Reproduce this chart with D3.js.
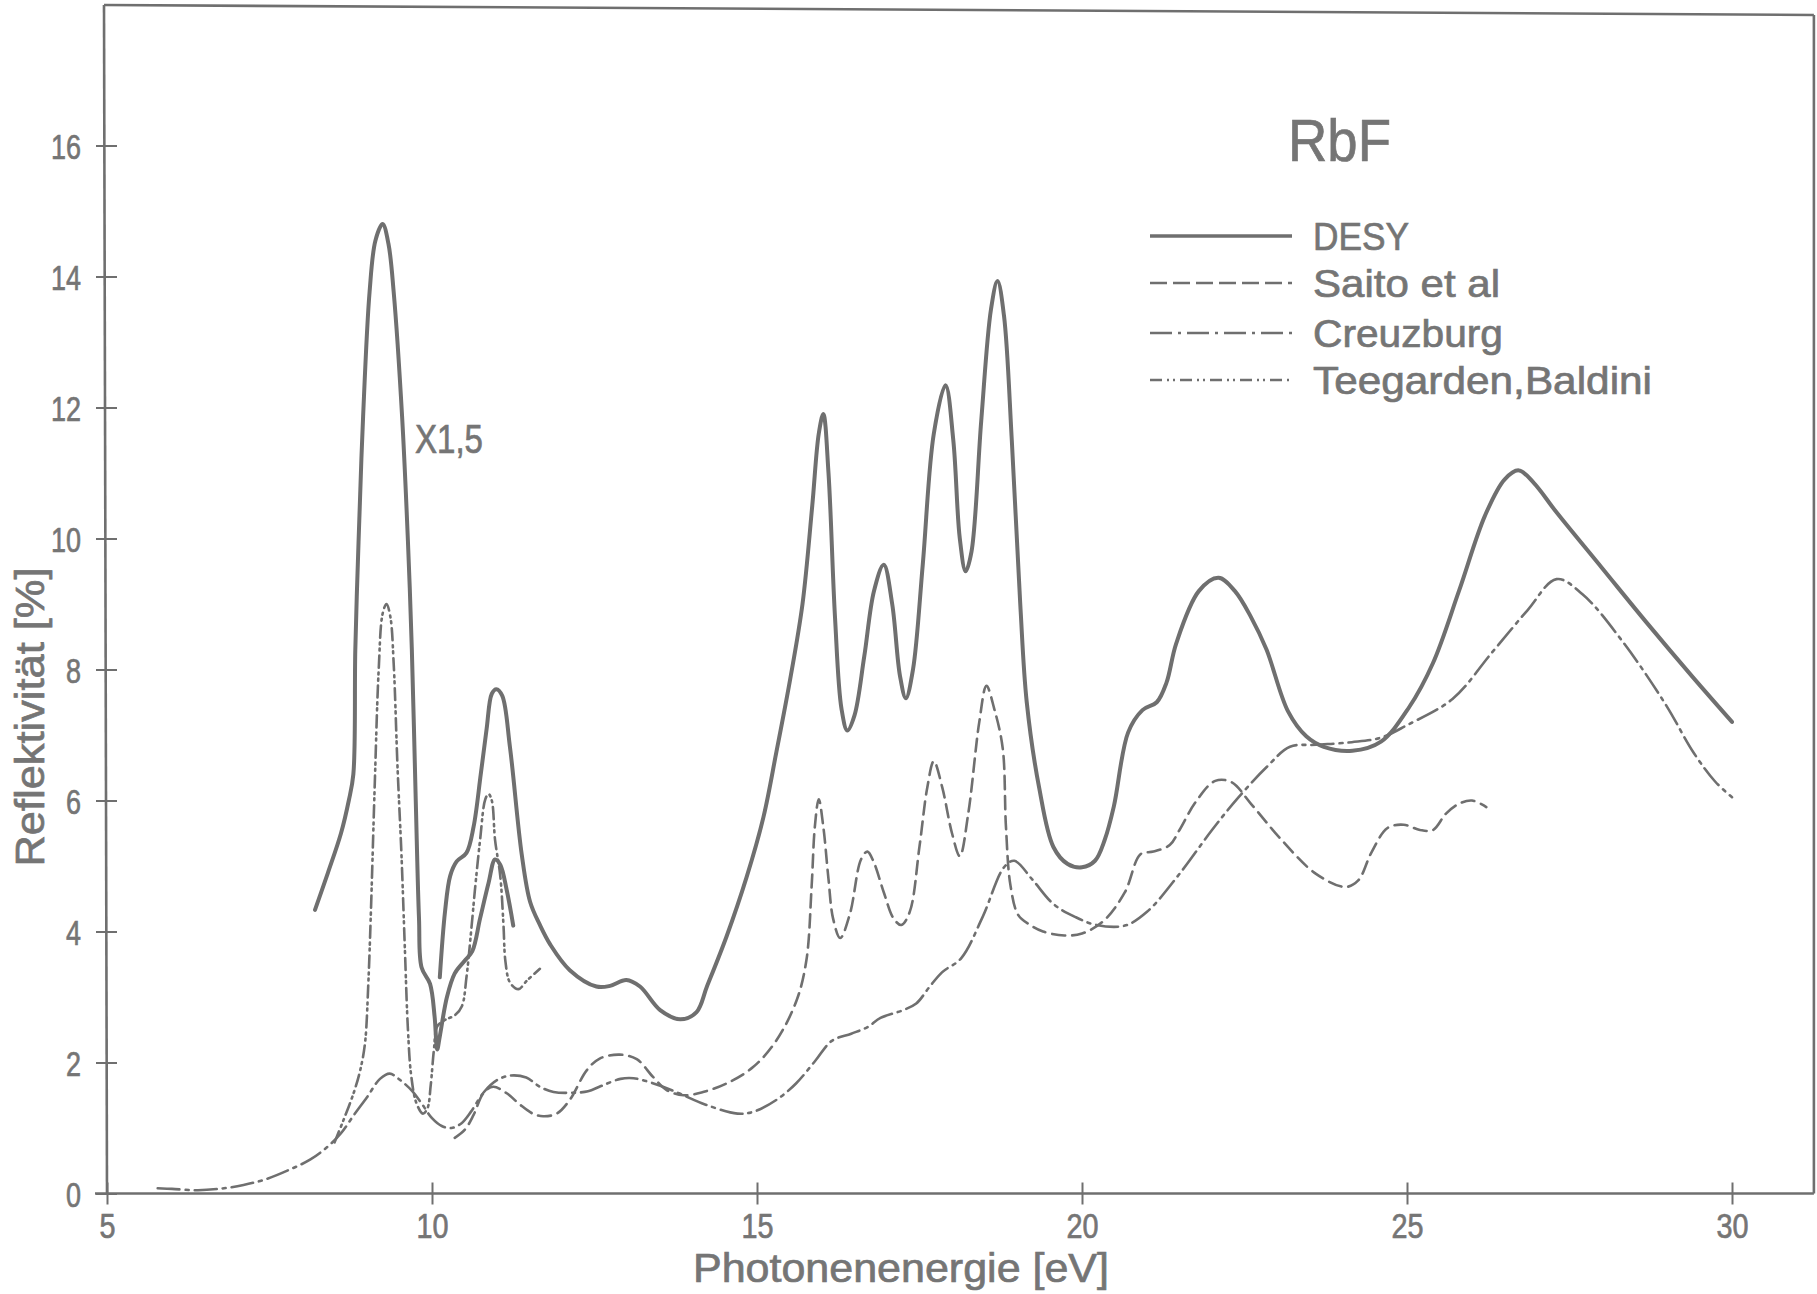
<!DOCTYPE html>
<html>
<head>
<meta charset="utf-8">
<script src="https://cdn.jsdelivr.net/npm/d3@7"></script>
<style>
  html, body { margin: 0; padding: 0; background: #ffffff; }
  svg { display: block; }
  text { font-family: "Liberation Sans", Arial, "DejaVu Sans", sans-serif; fill: #757575;
         stroke: #757575; stroke-width: 0.7px; paint-order: stroke; }
</style>
</head>
<body>
<svg id="chart" width="1817" height="1294"></svg>
<script>
// ---------------- DATA ----------------
const xTicks = [5, 10, 15, 20, 25, 30];
const yTicks = [0, 2, 4, 6, 8, 10, 12, 14, 16];
const chartTitle = "RbF";
const xLabel = "Photonenenergie  [eV]";
const yLabel = "Reflektivität [%]";
const scaleNote = "X1,5";
const seriesNames = ["DESY", "Saito et al", "Creuzburg", "Teegarden,Baldini"];

// DESY, first part (large exciton peak, marked X1,5) [eV, %]
const desyA = [
  [8.2,4.33],[8.4,4.9],[8.6,5.5],[8.72,6.0],[8.79,6.4],[8.82,8.3],[8.87,9.95],[8.94,11.86],
  [9.04,13.77],[9.13,14.55],[9.24,14.8],[9.33,14.5],[9.41,13.77],[9.54,11.86],[9.63,9.95],
  [9.69,8.3],[9.75,6.0],[9.8,4.2],[9.84,3.45],[9.97,3.2],[10.04,2.7],[10.08,2.2],[10.12,2.4],
  [10.23,3.0],[10.35,3.36],[10.5,3.55],[10.62,3.7],[10.74,4.2],[10.87,4.74],[10.97,5.1],
  [11.05,5.02],[11.15,4.63],[11.25,4.09]
];
// DESY, main spectrum
const desyB = [
  [10.12,3.3],[10.2,4.3],[10.28,4.85],[10.38,5.07],[10.53,5.2],[10.64,5.6],[10.75,6.4],[10.84,7.09],
  [10.92,7.63],[10.99,7.7],[11.08,7.6],[11.2,6.81],[11.38,5.18],[11.51,4.45],[11.66,4.1],[11.82,3.8],
  [12.12,3.41],[12.53,3.16],[12.74,3.17],[12.99,3.26],[13.2,3.16],[13.51,2.8],[13.82,2.66],[14.07,2.77],
  [14.23,3.16],[14.53,3.92],[14.84,4.83],[15.1,5.75],[15.3,6.75],[15.51,7.85],[15.7,9.0],[15.85,10.5],
  [15.95,11.6],[16.02,11.9],[16.1,11.0],[16.2,8.8],[16.3,7.4],[16.39,7.07],[16.5,7.3],[16.65,8.2],
  [16.8,9.2],[16.95,9.6],[17.08,9.0],[17.2,7.9],[17.29,7.56],[17.4,8.0],[17.55,9.6],[17.72,11.6],
  [17.9,12.34],[18.02,11.5],[18.12,10.0],[18.21,9.5],[18.3,9.8],[18.45,11.8],[18.6,13.5],[18.7,13.93],
  [18.8,13.4],[18.92,11.5],[19.05,9.0],[19.15,7.5],[19.34,6.2],[19.56,5.29],[19.78,5.03],[20.0,4.98],
  [20.2,5.08],[20.35,5.4],[20.49,5.91],[20.71,7.04],[20.93,7.38],[21.15,7.5],[21.3,7.8],[21.45,8.4],
  [21.8,9.2],[22.1,9.4],[22.35,9.2],[22.6,8.8],[22.84,8.3],[23.17,7.36],[23.45,6.98],[23.72,6.82],
  [24.16,6.76],[24.6,6.9],[25.03,7.42],[25.4,8.1],[25.8,9.2],[26.2,10.35],[26.5,10.9],[26.72,11.04],
  [26.95,10.85],[27.3,10.4],[28.0,9.55],[28.7,8.7],[29.4,7.88],[30.0,7.2]
];
// Saito et al
const saito = [
  [10.35,0.85],[10.51,0.98],[10.64,1.2],[10.79,1.53],[10.94,1.63],[11.15,1.53],[11.35,1.36],[11.55,1.22],
  [11.71,1.18],[11.92,1.22],[12.12,1.43],[12.38,1.88],[12.58,2.06],[12.89,2.12],[13.15,2.05],[13.4,1.78],
  [13.61,1.58],[13.87,1.5],[14.17,1.55],[14.53,1.68],[14.94,1.93],[15.3,2.34],[15.61,2.95],[15.76,3.56],
  [15.84,4.68],[15.89,5.6],[15.95,6.02],[16.02,5.6],[16.1,4.8],[16.17,4.2],[16.28,3.9],[16.43,4.27],
  [16.6,5.1],[16.7,5.22],[16.8,5.05],[16.95,4.6],[17.1,4.2],[17.22,4.1],[17.35,4.3],[17.5,5.3],
  [17.62,6.2],[17.72,6.6],[17.85,6.2],[18.0,5.5],[18.12,5.15],[18.25,5.8],[18.42,7.2],[18.53,7.75],
  [18.65,7.4],[18.78,6.8],[18.83,5.6],[18.9,4.7],[19.02,4.25],[19.2,4.1],[19.4,4.0],[19.73,3.94],
  [20.0,3.97],[20.33,4.16],[20.66,4.6],[20.9,5.18],[21.1,5.22],[21.35,5.32],[21.5,5.55],[21.75,5.98],
  [22.05,6.3],[22.3,6.28],[22.6,5.95],[23.06,5.41],[23.6,4.88],[24.05,4.68],[24.25,4.78],[24.45,5.2],
  [24.7,5.58],[24.95,5.63],[25.2,5.55],[25.4,5.55],[25.6,5.8],[25.8,5.95],[26.0,6.0],[26.22,5.9]
];
// Creuzburg (long dash-dot curve)
const creuzburg = [
  [5.78,0.08],[6.0,0.07],[6.4,0.05],[6.8,0.08],[7.1,0.13],[7.45,0.22],[7.8,0.36],[8.13,0.52],
  [8.4,0.72],[8.6,0.92],[8.8,1.2],[9.0,1.47],[9.2,1.75],[9.35,1.83],[9.5,1.74],[9.7,1.56],
  [9.85,1.36],[10.0,1.15],[10.15,1.03],[10.3,1.0],[10.45,1.07],[10.6,1.25],[10.8,1.55],[11.0,1.73],
  [11.2,1.8],[11.45,1.77],[11.66,1.63],[11.87,1.55],[12.2,1.54],[12.4,1.56],[12.6,1.64],[12.9,1.75],
  [13.1,1.76],[13.5,1.65],[13.8,1.53],[14.2,1.36],[14.7,1.22],[14.95,1.25],[15.3,1.43],[15.6,1.68],
  [15.9,2.03],[16.15,2.33],[16.45,2.44],[16.7,2.54],[16.9,2.68],[17.25,2.8],[17.45,2.9],[17.65,3.15],
  [17.85,3.38],[18.14,3.59],[18.47,4.22],[18.8,4.98],[18.96,5.08],[19.23,4.8],[19.56,4.42],[19.9,4.22],
  [20.22,4.1],[20.66,4.09],[21.0,4.3],[21.5,4.88],[22.0,5.55],[22.4,6.04],[22.85,6.52],[23.2,6.82],
  [23.6,6.85],[24.15,6.89],[24.6,6.96],[25.0,7.15],[25.7,7.55],[26.3,8.25],[26.85,8.9],[27.3,9.38],
  [27.7,9.15],[28.3,8.45],[28.97,7.48],[29.41,6.73],[29.74,6.29],[30.0,6.05]
];
// Teegarden, Baldini (short dash-dot-dot curve)
const teegarden = [
  [8.5,0.78],[8.65,1.15],[8.8,1.55],[8.9,1.9],[8.97,2.3],[9.02,3.2],[9.06,4.3],[9.12,6.27],
  [9.18,8.0],[9.24,8.85],[9.3,9.0],[9.36,8.8],[9.41,8.1],[9.47,6.5],[9.53,5.18],[9.58,3.81],
  [9.63,2.5],[9.68,1.8],[9.76,1.38],[9.86,1.22],[9.93,1.3],[9.98,1.65],[10.03,2.2],[10.08,2.55],
  [10.2,2.65],[10.35,2.72],[10.46,2.86],[10.53,3.3],[10.61,4.09],[10.66,4.63],[10.74,5.4],[10.82,6.02],
  [10.87,6.1],[10.92,6.0],[10.97,5.4],[11.05,4.85],[11.1,4.09],[11.13,3.54],[11.2,3.22],[11.33,3.12],
  [11.46,3.25],[11.66,3.43]
];

// ---------------- DRAWING ----------------
const svg = d3.select("#chart");
const ink = "#6f6f6f";

const x = d3.scaleLinear().domain([5, 30]).range([107, 1732]);
const y = d3.scaleLinear().domain([0, 16]).range([1193.5, 145.5]);
const xRight = x(31.26);
const yTop = y(18.1);

// frame
const frame = svg.append("g").attr("fill", "none").attr("stroke", ink).attr("stroke-width", 2.6);
frame.append("line").attr("x1", x(5) - 3).attr("y1", yTop - 3).attr("x2", x(5)).attr("y2", y(0));
frame.append("line").attr("x1", x(5) - 3).attr("y1", yTop - 3).attr("x2", xRight).attr("y2", yTop + 7);
frame.append("line").attr("x1", xRight).attr("y1", yTop + 7).attr("x2", xRight).attr("y2", y(0));

// x axis
const gx = svg.append("g").attr("transform", `translate(0,${y(0)})`)
  .call(d3.axisBottom(x).tickValues(xTicks).tickSize(10).tickSizeOuter(0).tickFormat(d3.format("d")));
gx.select(".domain").remove();
gx.append("line").attr("x1", x(5) - 12).attr("x2", xRight).attr("y1", 0).attr("y2", 0)
  .attr("stroke", ink).attr("stroke-width", 2.6);
gx.selectAll(".tick line").attr("y1", -11).attr("y2", 11).attr("stroke", ink).attr("stroke-width", 2);
gx.selectAll(".tick text")
  .attr("y", 44).attr("dy", null)
  .style("font-size", "35px")
  .attr("textLength", d => String(d).length * 16).attr("lengthAdjust", "spacingAndGlyphs");

// y axis
const gy = svg.append("g").attr("transform", `translate(${x(5)},0)`)
  .call(d3.axisLeft(y).tickValues(yTicks).tickSize(10).tickSizeOuter(0).tickFormat(d3.format("d")));
gy.select(".domain").remove();
gy.selectAll(".tick line").attr("x1", -11).attr("x2", 10).attr("stroke", ink).attr("stroke-width", 2);
gy.selectAll(".tick text")
  .attr("x", -26).attr("dy", "0.36em")
  .style("font-size", "35px")
  .attr("textLength", d => String(d).length * 15).attr("lengthAdjust", "spacingAndGlyphs");

// curves
const line = d3.line().x(d => x(d[0])).y(d => y(d[1])).curve(d3.curveCatmullRom.alpha(0.5));
const styles = {
  desy:      { w: 4.0, dash: null },
  saito:     { w: 2.6, dash: "13,7" },
  creuzburg: { w: 2.6, dash: "22,6,3,6" },
  teegarden: { w: 2.6, dash: "12,5,2,4,2,5" }
};
const curves = [
  { data: creuzburg, s: styles.creuzburg },
  { data: teegarden, s: styles.teegarden },
  { data: saito, s: styles.saito },
  { data: desyA, s: styles.desy },
  { data: desyB, s: styles.desy }
];
svg.append("g").selectAll("path").data(curves).join("path")
  .attr("d", d => line(d.data))
  .attr("fill", "none").attr("stroke", ink)
  .attr("stroke-width", d => d.s.w)
  .attr("stroke-dasharray", d => d.s.dash)
  .attr("stroke-linejoin", "round").attr("stroke-linecap", "round");

// legend
const legendStyles = [styles.desy, styles.saito, styles.creuzburg, styles.teegarden];
const legendY = [236, 283, 333, 380];
const legendW = [96, 187, 190, 339];
const lg = svg.append("g");
seriesNames.forEach((name, i) => {
  lg.append("line").attr("x1", 1150).attr("x2", 1292).attr("y1", legendY[i]).attr("y2", legendY[i])
    .attr("stroke", ink).attr("stroke-width", i === 0 ? 3.4 : 2.6)
    .attr("stroke-dasharray", i === 0 ? null : (i === 1 ? "17,6" : legendStyles[i].dash));
  lg.append("text").attr("x", 1313).attr("y", legendY[i] + 14)
    .style("font-size", "39px")
    .attr("textLength", legendW[i]).attr("lengthAdjust", "spacingAndGlyphs")
    .text(name);
});

// title
svg.append("text").attr("x", 1288).attr("y", 161).style("font-size", "60px")
  .attr("textLength", 103).attr("lengthAdjust", "spacingAndGlyphs").text(chartTitle);

// scale note
svg.append("text").attr("x", 415).attr("y", 453).style("font-size", "40px")
  .attr("textLength", 68).attr("lengthAdjust", "spacingAndGlyphs").text(scaleNote);

// axis titles
svg.append("text").attr("x", 693).attr("y", 1282).style("font-size", "40px")
  .attr("textLength", 416).attr("lengthAdjust", "spacingAndGlyphs").text(xLabel);
svg.append("text").attr("transform", "translate(44,717) rotate(-90)")
  .attr("text-anchor", "middle").style("font-size", "40px")
  .attr("textLength", 299).attr("lengthAdjust", "spacingAndGlyphs").text(yLabel);
</script>
</body>
</html>
